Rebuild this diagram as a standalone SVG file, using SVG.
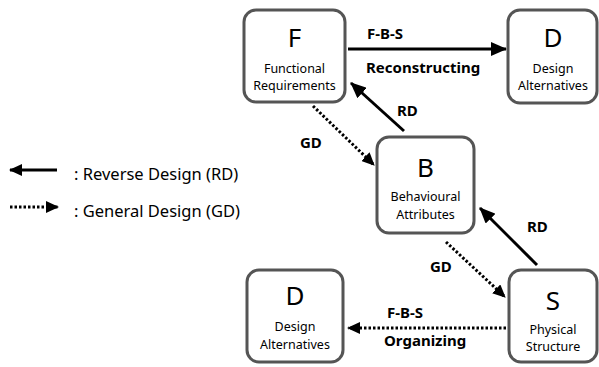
<svg xmlns="http://www.w3.org/2000/svg" width="599" height="367" viewBox="0 0 599 367">
<defs>
<style>
.box{fill:#fff;stroke:#555;stroke-width:3}
.big{font-family:"Noto Sans","Open Sans",sans-serif;font-size:26px;text-anchor:middle;fill:#000}
.sm{font-family:"Noto Sans","Open Sans",sans-serif;font-size:12.5px;text-anchor:middle;fill:#000}
.lbl{font-family:"Noto Sans","Open Sans",sans-serif;font-size:15px;font-weight:bold;fill:#000}
.leg{font-family:"Noto Sans","Open Sans",sans-serif;font-size:16.5px;fill:#000}
.solid{stroke:#000;stroke-width:3;fill:none}
.dot{stroke:#000;stroke-width:3;fill:none;stroke-dasharray:2.5 2}
</style>
<marker id="ah" markerUnits="userSpaceOnUse" markerWidth="16" markerHeight="14" refX="15" refY="7" orient="auto">
<path d="M0,0 L16,7 L0,14 Z" fill="#000"/>
</marker>
<marker id="ahs" markerUnits="userSpaceOnUse" markerWidth="13" markerHeight="12" refX="12" refY="6" orient="auto">
<path d="M0,0 L13,6 L0,12 Z" fill="#000"/>
</marker>
</defs>
<g id="connectors">
<line class="solid" x1="348" y1="49" x2="506" y2="49" marker-end="url(#ah)"/>
<line class="solid" x1="404" y1="131" x2="351" y2="83" marker-end="url(#ah)"/>
<line class="dot" x1="313" y1="106" x2="374" y2="165" marker-end="url(#ahs)"/>
<line class="solid" x1="537" y1="265" x2="480" y2="208" marker-end="url(#ah)"/>
<line class="dot" x1="446" y1="242" x2="505" y2="297" marker-end="url(#ahs)"/>
<line class="dot" x1="506" y1="328" x2="348" y2="328" marker-end="url(#ahs)"/>
<text class="lbl" x="367" y="39">F-B-S</text>
<text class="lbl" x="366" y="73">Reconstructing</text>
<text class="lbl" x="397" y="116">RD</text>
<text class="lbl" x="300" y="148">GD</text>
<text class="lbl" x="527" y="232">RD</text>
<text class="lbl" x="430" y="272">GD</text>
<text class="lbl" x="387" y="318">F-B-S</text>
<text class="lbl" x="384" y="346">Organizing</text>
</g>
<g id="legend">
<line class="solid" x1="57" y1="170" x2="10" y2="170" marker-end="url(#ahs)"/>
<line class="dot" x1="10" y1="207" x2="58" y2="207" marker-end="url(#ahs)"/>
<text class="leg" x="74" y="180">: Reverse Design (RD)</text>
<text class="leg" x="74" y="217">: General Design (GD)</text>
</g>
<g id="F">
<rect class="box" x="244" y="10" width="101" height="92" rx="12"/>
<text class="big" x="294.5" y="47">F</text>
<text class="sm" x="294.5" y="72.5">Functional</text>
<text class="sm" x="294.5" y="90">Requirements</text>
</g>
<g id="D1">
<rect class="box" x="508" y="10" width="89" height="93" rx="12"/>
<text class="big" x="553" y="47">D</text>
<text class="sm" x="553" y="72.5">Design</text>
<text class="sm" x="553" y="90">Alternatives</text>
</g>
<g id="B">
<rect class="box" x="377" y="137" width="97" height="96" rx="12"/>
<text class="big" x="425.5" y="177">B</text>
<text class="sm" x="425.5" y="201">Behavioural</text>
<text class="sm" x="425.5" y="218.5">Attributes</text>
</g>
<g id="S">
<rect class="box" x="509" y="270" width="88" height="92" rx="12"/>
<text class="big" x="553" y="310">S</text>
<text class="sm" x="553" y="333.5">Physical</text>
<text class="sm" x="553" y="351">Structure</text>
</g>
<g id="D2">
<rect class="box" x="247" y="270" width="96" height="92" rx="12"/>
<text class="big" x="295" y="305">D</text>
<text class="sm" x="295" y="331">Design</text>
<text class="sm" x="295" y="348.5">Alternatives</text>
</g>
</svg>
